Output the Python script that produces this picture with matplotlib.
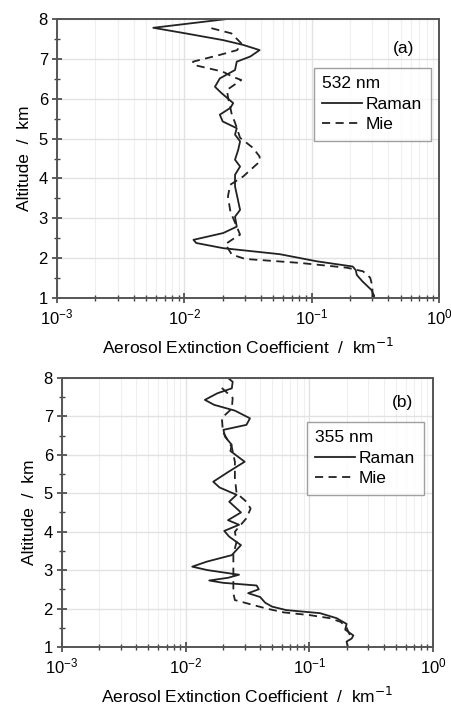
import numpy as np
import matplotlib
matplotlib.use("Agg")
import matplotlib.pyplot as plt
from matplotlib.ticker import LogLocator, MultipleLocator, NullFormatter

plt.rcParams['font.family'] = ['Liberation Sans', 'DejaVu Sans']

# --- panel (a): 532 nm ---
alt_raman_a = [8.0, 7.78, 7.65, 7.47, 7.35, 7.22, 7.06, 6.93, 6.72, 6.51, 6.3, 6.14,
               5.89, 5.77, 5.6, 5.43, 5.26, 5.1, 4.93, 4.72, 4.47, 4.3, 4.09, 3.8,
               3.55, 3.21, 3.04, 2.79, 2.63, 2.46, 2.38, 2.25, 2.1, 1.92, 1.79, 1.7,
               1.58, 1.42, 1.2, 1.05, 1.0]
ext_raman_a = [0.0216, 0.0057, 0.0098, 0.0202, 0.029, 0.039, 0.033, 0.0258, 0.025, 0.019,
               0.0174, 0.0196, 0.0242, 0.023, 0.019, 0.020, 0.0258, 0.025, 0.0274, 0.0265,
               0.025, 0.0274, 0.025, 0.025, 0.026, 0.0274, 0.025, 0.0258, 0.0202, 0.0118,
               0.0124, 0.0202, 0.056, 0.11, 0.21, 0.222, 0.226, 0.25, 0.295, 0.31, 0.30]

alt_mie_a = [7.77, 7.64, 7.39, 7.22, 7.1, 6.93, 6.85, 6.68, 6.55, 6.47, 6.22, 6.05,
             5.6, 5.4, 5.02, 4.77, 4.55, 4.42, 4.05, 3.84, 3.55, 3.17, 2.59, 2.46,
             2.35, 2.09, 1.98, 1.88, 1.76, 1.67, 1.51, 1.29, 1.0]
ext_mie_a = [0.0163, 0.0234, 0.028, 0.026, 0.019, 0.0117, 0.0118, 0.020, 0.024, 0.028,
             0.0216, 0.022, 0.0236, 0.025, 0.0274, 0.0345, 0.039, 0.039, 0.029, 0.0229,
             0.022, 0.023, 0.0274, 0.0236, 0.021, 0.0236, 0.030, 0.081, 0.189, 0.253,
             0.288, 0.30, 0.30]

# --- panel (b): 355 nm ---
alt_raman_b = [8.0, 7.9, 7.73, 7.6, 7.43, 7.3, 7.15, 6.95, 6.78, 6.65, 6.47, 6.26,
               6.1, 5.82, 5.55, 5.3, 5.15, 4.96, 4.78, 4.5, 4.3, 4.18, 4.02, 3.87,
               3.65, 3.39, 3.22, 3.09, 3.0, 2.88, 2.8, 2.73, 2.67, 2.6, 2.5, 2.4,
               2.3, 2.15, 2.05, 1.96, 1.88, 1.75, 1.6, 1.45, 1.3, 1.22, 1.14, 1.0]
ext_raman_b = [0.022, 0.024, 0.0236, 0.018, 0.0143, 0.017, 0.025, 0.0331, 0.031, 0.0202,
               0.0208, 0.0236, 0.023, 0.030, 0.022, 0.0167, 0.0188, 0.0258, 0.0225, 0.028,
               0.022, 0.027, 0.0205, 0.0225, 0.028, 0.0236, 0.0148, 0.0113, 0.015, 0.027,
               0.022, 0.0155, 0.020, 0.0375, 0.039, 0.032, 0.040, 0.044, 0.05, 0.065,
               0.122, 0.166, 0.20, 0.195, 0.227, 0.22, 0.20, 0.205]

alt_mie_b = [7.74, 7.48, 7.2, 6.96, 6.6, 6.2, 5.82, 5.4, 5.0, 4.78, 4.6, 4.35, 4.0,
             3.74, 3.4, 2.9, 2.4, 2.22, 2.0, 1.9, 1.83, 1.75, 1.65, 1.5, 1.35, 1.2]
ext_mie_b = [0.0196, 0.024, 0.0236, 0.0196, 0.020, 0.0236, 0.025, 0.025, 0.0258, 0.031,
             0.0335, 0.031, 0.025, 0.0258, 0.0243, 0.0243, 0.0243, 0.025, 0.045, 0.062,
             0.10, 0.146, 0.18, 0.20, 0.21, 0.22]

panels = [
    (alt_raman_a, ext_raman_a, alt_mie_a, ext_mie_a, "532 nm", "(a)"),
    (alt_raman_b, ext_raman_b, alt_mie_b, ext_mie_b, "355 nm", "(b)"),
]
positions = [[0.1264, 0.5785, 0.847, 0.3946], [0.1375, 0.0849, 0.8226, 0.3805]]
tag_xy = [(0.906, 0.896), (0.919, 0.907)]
leg_anchor = [(0.978, 0.826), (0.975, 0.838)]

fig = plt.figure(figsize=(4.51, 7.07), dpi=100)
line_col = '#222222'

for i, ((ar, er, am, em, title, tag), pos) in enumerate(zip(panels, positions)):
    ax = fig.add_axes(pos)
    ax.set_xscale('log')
    ax.set_xlim(1e-3, 1)
    ax.set_ylim(1, 8)

    ax.grid(True, which='major', color='#e2e2e2', lw=1.0)
    ax.grid(True, which='minor', axis='x', color='#efefef', lw=0.8)
    ax.set_axisbelow(True)

    ax.plot(er, ar, color=line_col, lw=1.3, label='Raman', solid_joinstyle='round')
    ax.plot(em, am, color=line_col, lw=1.3, ls=(0, (4.5, 3)), label='Mie')

    ax.xaxis.set_major_locator(LogLocator(base=10, numticks=10))
    ax.xaxis.set_minor_locator(LogLocator(base=10, subs=np.arange(2, 10), numticks=10))
    ax.xaxis.set_minor_formatter(NullFormatter())
    ax.yaxis.set_major_locator(MultipleLocator(1))
    ax.yaxis.set_minor_locator(MultipleLocator(0.5))
    ax.tick_params(which='both', direction='inout', top=False, right=False,
                   labelsize=12, color='#444444')
    ax.tick_params(which='major', length=7, width=1.2, pad=3)
    ax.tick_params(which='minor', length=4, width=1.0)
    for sp in ax.spines.values():
        sp.set_color('#555555')
        sp.set_linewidth(1.4)

    ax.set_xlabel("Aerosol Extinction Coefficient  /  km$^{-1}$", fontsize=12.5, labelpad=7)
    ax.set_ylabel("Altitude  /  km", fontsize=12.5, labelpad=5)

    ax.text(tag_xy[i][0], tag_xy[i][1], tag, transform=ax.transAxes, fontsize=12.5,
            ha='center', va='center')
    leg = ax.legend(title=title, loc='upper right', bbox_to_anchor=leg_anchor[i],
                    fontsize=12.5, title_fontsize=12.5, alignment='left',
                    frameon=True, fancybox=False, handlelength=2.3,
                    handletextpad=0.2, borderpad=0.5, labelspacing=0.3,
                    borderaxespad=0)
    leg.get_frame().set_edgecolor('#888888')
    leg.get_frame().set_linewidth(1.0)

fig.savefig("out.png", dpi=100)
